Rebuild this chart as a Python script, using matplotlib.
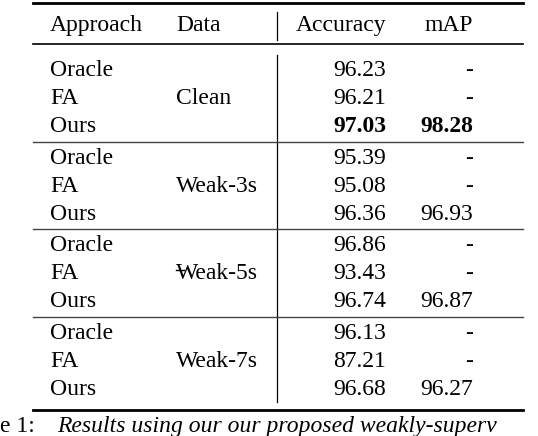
import matplotlib
matplotlib.use("Agg")
import matplotlib.pyplot as plt
from matplotlib.lines import Line2D

headers = ["Approach", "Data", "Accuracy", "mAP"]
approaches = ["Oracle", "FA", "Ours"]
datasets = ["Clean", "Weak-3s", "Weak-5s", "Weak-7s"]
accuracy = [["96.23", "96.21", "97.03"], ["95.39", "95.08", "96.36"],
            ["96.86", "93.43", "96.74"], ["96.13", "87.21", "96.68"]]
mAP = [["-", "-", "98.28"], ["-", "-", "96.93"], ["-", "-", "96.87"], ["-", "-", "96.27"]]
caption_pre = "e 1:"
caption = "Results using our our proposed weakly-superv"

W, H = 538, 436
fig = plt.figure(figsize=(W/100, H/100), dpi=100)
ax = fig.add_axes([0, 0, 1, 1])
ax.set_xlim(0, W); ax.set_ylim(H, 0); ax.axis("off")
font = dict(family="Liberation Serif", fontsize=17, va="center_baseline")

def hline(y, lw, c="black"):
    ax.add_line(Line2D([33, 523], [y, y], color=c, lw=lw))

hline(3, 2.0); hline(44, 1.2); hline(410, 2.0)
ax.add_line(Line2D([277, 277], [12, 40], color="black", lw=0.9))
ax.add_line(Line2D([277, 277], [55, 402], color="black", lw=0.9))

ax.text(50, 23, headers[0], ha="left", **font)
ax.text(176, 23, headers[1], ha="left", **font)
ax.text(386, 23, headers[2], ha="right", **font)
ax.text(473, 23, headers[3], ha="right", **font)

starts = [67, 155, 242, 330]
for g, y0 in enumerate(starts):
    for i, a in enumerate(approaches):
        y = y0 + i * 28 + 1
        ax.text(50, y, a, ha="left", **font)
        bold = "bold" if (g == 0 and i == 2) else "normal"
        ax.text(386, y, accuracy[g][i], ha="right", fontweight=bold, **font)
        ax.text(473, y, mAP[g][i], ha="right", fontweight=bold, **font)
    ax.text(176, y0 + 29, datasets[g], ha="left", **font)
    if g > 0:
        hline(y0 - 13, 1.0, "#444444")
ax.add_line(Line2D([176, 184], [270, 270], color="black", lw=1.0))

ax.text(0, 424, caption_pre, ha="left", **font)
ax.text(57, 424, caption, ha="left", style="italic", **font)
fig.savefig("out.png", dpi=100)
